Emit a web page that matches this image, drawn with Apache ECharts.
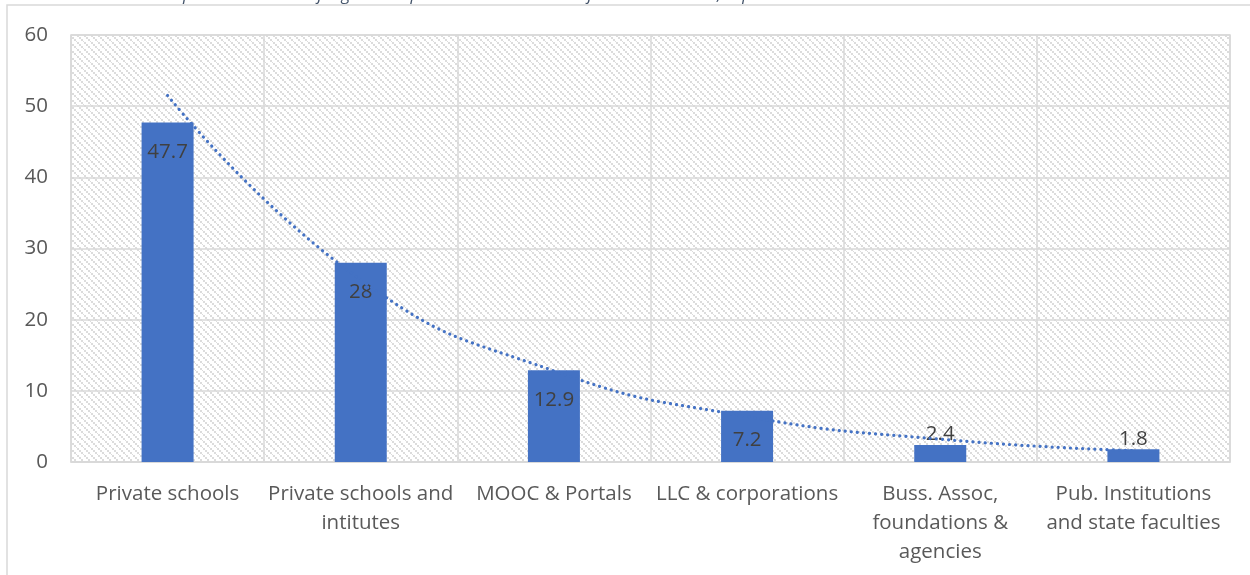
<!DOCTYPE html>
<html><head><meta charset="utf-8">
<script src="https://cdn.jsdelivr.net/npm/echarts@6/dist/echarts.min.js"></script>
<style>html,body{margin:0;padding:0;background:#fff}#c{width:1250px;height:575px}</style>
</head><body><div id="c"></div>
<script>
var categories = ["Private schools", "Private schools and\nintitutes", "MOOC & Portals", "LLC & corporations", "Buss. Assoc,\nfoundations &\nagencies", "Pub. Institutions\nand state faculties"];
var values = [47.7, 28, 12.9, 7.2, 2.4, 1.8];
var trendValues = [51.5, 25.6, 12.8, 6.4, 3.2, 1.6];
var yTicks = [0, 10, 20, 30, 40, 50, 60];
var titleText = "Graph 3 \u2013 Providers of digital competence courses in non-formal education, expressed in %";

var tile = document.createElement('canvas');
tile.width = 7; tile.height = 7;
var tc = tile.getContext('2d');
tc.fillStyle = '#ffffff'; tc.fillRect(0,0,7,7);
tc.fillStyle = '#dcdcdc';
for (var i = 0; i < 7; i++) { if (i % 2 === 0) { tc.fillRect(i, i, 2, 2); } }

var chart = echarts.init(document.getElementById('c'), null, {renderer: 'canvas'});
var barData = values.map(function (v) {
  return v < 5 ? {value: v, label: {position: 'top', distance: 0}} : {value: v};
});
chart.setOption({
  animation: false,
  title: {text: titleText, left: 150, top: -18, textStyle: {fontFamily: 'Open Sans', fontStyle: 'italic', fontWeight: 'normal', fontSize: 17, color: '#44546A'}},
  graphic: [{type: 'rect', shape: {x: 7, y: 5, width: 1400, height: 700}, style: {fill: 'none', stroke: '#D9D9D9', lineWidth: 1.5}, silent: true}],
  grid: {left: 71, right: 20, top: 35, bottom: 113, show: true, borderColor: '#D9D9D9', borderWidth: 1.5, backgroundColor: {image: tile, repeat: 'repeat'}},
  xAxis: {
    type: 'category', data: categories,
    axisLine: {show: true, lineStyle: {color: '#D9D9D9', width: 1.5}},
    axisTick: {show: false},
    splitLine: {show: true, lineStyle: {color: '#D9D9D9', width: 1.5}},
    axisLabel: {interval: 0, color: '#595959', fontFamily: 'Open Sans', fontSize: 20.5, lineHeight: 29, margin: 18}
  },
  yAxis: {
    type: 'value', min: yTicks[0], max: yTicks[yTicks.length - 1], interval: 10,
    axisLine: {show: false}, axisTick: {show: false},
    splitLine: {lineStyle: {color: '#D9D9D9', width: 1.5}},
    axisLabel: {color: '#595959', fontFamily: 'Open Sans', fontSize: 20.5, margin: 23}
  },
  series: [{
    type: 'bar', data: barData, barWidth: 52,
    itemStyle: {color: '#4472C4'},
    label: {show: true, position: 'insideTop', distance: 19, color: '#404040', fontFamily: 'Open Sans', fontSize: 20.5}
  }, {
    type: 'line', data: trendValues, smooth: true, symbol: 'none', z: 5,
    lineStyle: {color: '#4472C4', width: 3.2, type: [0.1, 6], cap: 'round'}
  }]
});
</script></body></html>
